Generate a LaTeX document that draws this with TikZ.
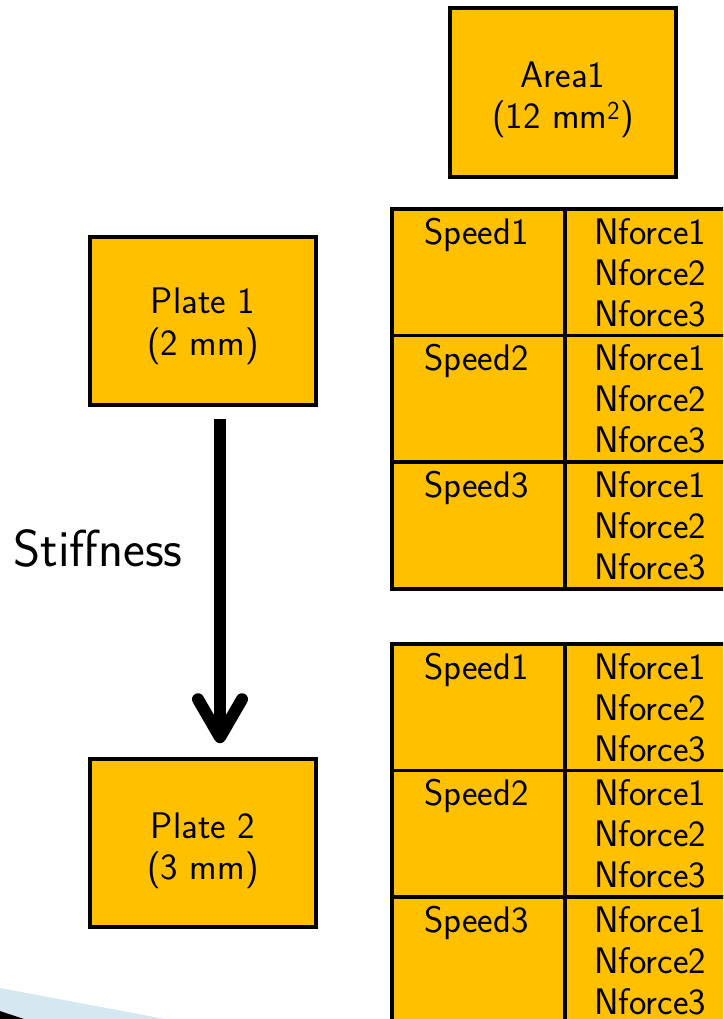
\documentclass[tikz,border=0pt]{standalone}
\usetikzlibrary{arrows.meta}
\definecolor{boxorange}{HTML}{FFC000}
\definecolor{slideblue}{HTML}{D5E7EF}
\begin{document}
\begin{tikzpicture}[x=1pt,y=-1pt,
  every node/.style={font=\sffamily\fontsize{37}{42}\selectfont, inner sep=0pt},
  bigbox/.style={draw=black, line width=3.5pt, fill=boxorange, minimum width=226pt, minimum height=168pt},
  cellbox/.style={draw=black, line width=3.5pt, fill=boxorange, anchor=north west},
  celltext/.style={anchor=base}]
\useasboundingbox (0,0) rectangle (723,1019);
\clip (0,0) rectangle (723,1019);
% slide decoration
\fill[slideblue] (0,988) -- (165,1019) -- (0,1019) -- cycle;
\fill[black] (0,1011) -- (24,1019) -- (0,1019) -- cycle;
% boxes
\node[bigbox, minimum height=169pt] (area) at (563,92.5) {};
\node[celltext] (areaa) at (563,88) {Area1};
\node[celltext] (areab) at (563,129) {(12 mm\textsuperscript{2})};
\node[bigbox] (p1) at (203,321) {};
\node[celltext] (p1a) at (203,313) {Plate 1};
\node[celltext] (p1b) at (203,355) {(2 mm)};
\node[bigbox] (p2) at (203,843) {};
\node[celltext] (p2a) at (203,838) {Plate 2};
\node[celltext] (p2b) at (203,879) {(3 mm)};
% arrow
\draw[line width=12pt, -{Straight Barb[length=38pt, width=44pt, round]}, shorten <=12pt, shorten >=14pt]
  ([xshift=17pt]p1.south) -- ([xshift=17pt]p2.north);
\node[font=\sffamily\fontsize{52}{56}\selectfont] (stiff) at (98,548) {Stiffness};
% tables
\foreach \t/\y in {1/207, 2/642} {
  \foreach \r in {0,1,2} {
    \pgfmathsetmacro{\top}{\y+\r*126.7}
    \pgfmathtruncatemacro{\s}{\r+1}
    \node[cellbox, minimum width=173pt, minimum height=126.7pt] (sp\t\s) at (390,\top) {};
    \node[cellbox, minimum width=173pt, minimum height=126.7pt] (nf\t\s) at (563,\top) {};
    \node[celltext] (spt\t\s) at (476.5,\top+37) {Speed\s};
    \node[celltext] (nfa\t\s) at (650,\top+37) {Nforce1};
    \node[celltext] (nfb\t\s) at (650,\top+78) {Nforce2};
    \node[celltext] (nfc\t\s) at (650,\top+119) {Nforce3};
  }
}
\end{tikzpicture}
\end{document}
